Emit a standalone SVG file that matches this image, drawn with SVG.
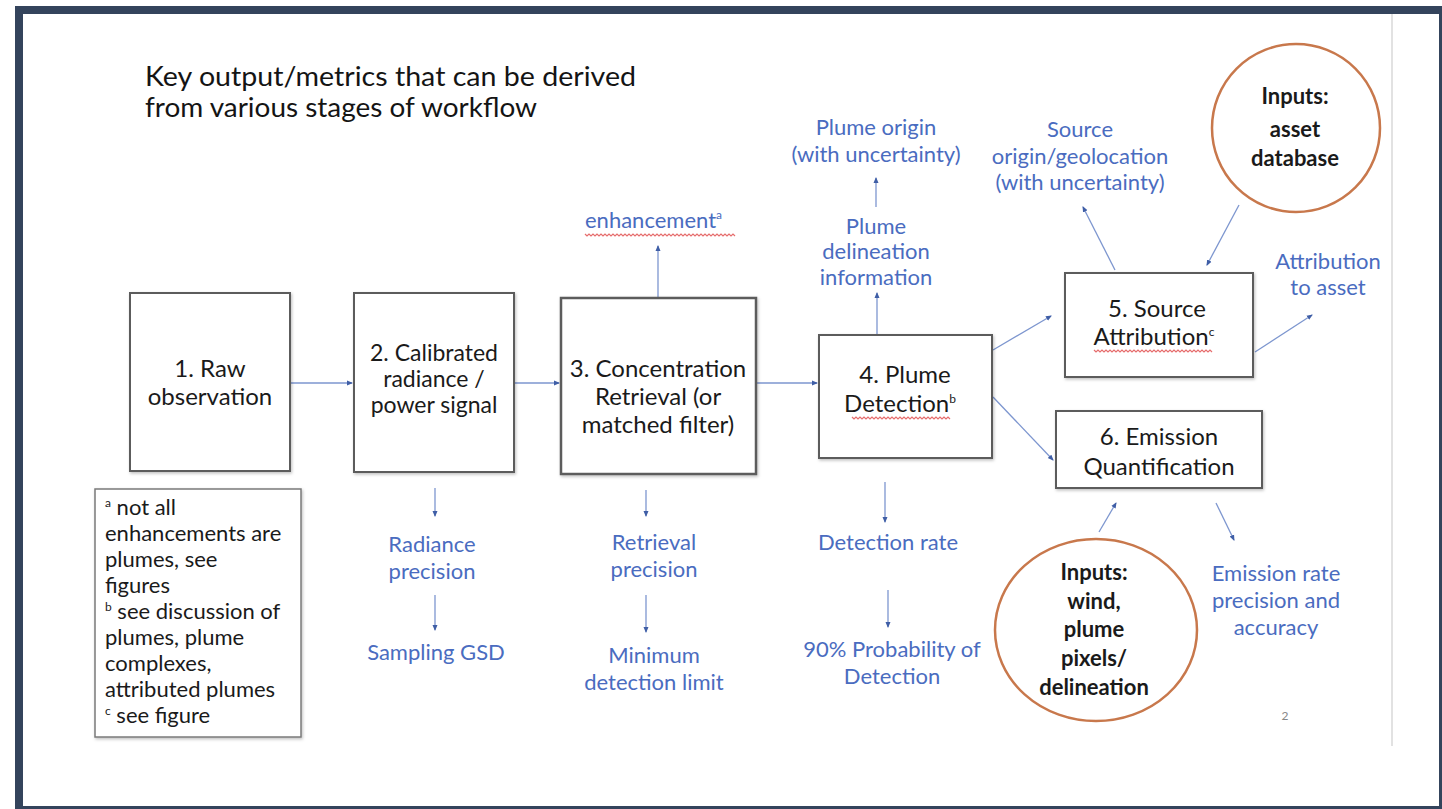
<svg xmlns="http://www.w3.org/2000/svg" width="1442" height="809" viewBox="0 0 1442 809">
  <style>
    .box{fill:#fff;stroke:#5b5b5b;stroke-width:2}
    .bt{font-family:Lato,"Liberation Sans",sans-serif;font-size:24px;fill:#1a1a1a;text-anchor:middle}
    .lb{font-family:Lato,"Liberation Sans",sans-serif;font-size:22px;fill:#4a6cc0;text-anchor:middle}
    .fn{font-family:Lato,"Liberation Sans",sans-serif;font-size:22px;fill:#1a1a1a}
    .ct{font-family:Lato,"Liberation Sans",sans-serif;font-size:22px;font-weight:bold;fill:#1a1a1a;text-anchor:middle}
    .title{font-family:Lato,"Liberation Sans",sans-serif;font-size:27px;fill:#141414}
    .sup{font-size:12px}
    .circ{fill:#fff;stroke:#c8784c;stroke-width:2.5}
    .con{stroke:#7d96cf;stroke-width:1.3;fill:none;marker-end:url(#ah)}
    .wavy{stroke:#e04848;stroke-width:1.2;fill:none;opacity:.8}
  </style>
  <defs>
    <marker id="ah" markerWidth="6" markerHeight="6" refX="5" refY="3" orient="auto" markerUnits="userSpaceOnUse">
      <path d="M0,0.5 L6,3 L0,5.5 z" fill="#3f5ea6"/>
    </marker>
    <filter id="sh" x="-10%" y="-10%" width="120%" height="120%">
      <feDropShadow dx="1" dy="1.5" stdDeviation="1.5" flood-color="#000" flood-opacity="0.25"/>
    </filter>
  </defs>

  <rect x="0" y="0" width="1442" height="809" fill="#fff"/>
  <rect x="19" y="10" width="1424" height="800" fill="none" stroke="#34445c" stroke-width="8"/>
  <line x1="1392" y1="14" x2="1392" y2="746" stroke="#e2e2e2" stroke-width="2"/>

  <g id="title">
    <text class="title" x="145" y="86" textLength="491" lengthAdjust="spacingAndGlyphs">Key output/metrics that can be derived</text>
    <text class="title" x="145" y="117" textLength="392" lengthAdjust="spacingAndGlyphs">from various stages of workflow</text>
  </g>

  <g id="connectors">
    <line class="con" x1="291" y1="383" x2="352" y2="383"/>
    <line class="con" x1="515" y1="383" x2="559" y2="383"/>
    <line class="con" x1="757" y1="383" x2="817" y2="383"/>
    <line class="con" x1="993" y1="350" x2="1051" y2="316"/>
    <line class="con" x1="993" y1="397" x2="1053" y2="460"/>
    <line class="con" x1="877" y1="335" x2="877" y2="293"/>
    <line class="con" x1="876" y1="207" x2="876" y2="178"/>
    <line class="con" x1="658" y1="297" x2="658" y2="246"/>
    <line class="con" x1="435" y1="488" x2="435" y2="516"/>
    <line class="con" x1="435" y1="595" x2="435" y2="630"/>
    <line class="con" x1="646" y1="490" x2="646" y2="516"/>
    <line class="con" x1="646" y1="595" x2="646" y2="632"/>
    <line class="con" x1="885" y1="482" x2="885" y2="522"/>
    <line class="con" x1="888" y1="590" x2="888" y2="627"/>
    <line class="con" x1="1115" y1="270" x2="1083" y2="207"/>
    <line class="con" x1="1239" y1="205" x2="1207" y2="265"/>
    <line class="con" x1="1255" y1="352" x2="1312" y2="315"/>
    <line class="con" x1="1099" y1="532" x2="1116" y2="503"/>
    <line class="con" x1="1216" y1="503" x2="1234" y2="540"/>
  </g>

  <g id="n1">
    <rect class="box" x="130" y="293" width="160" height="178" filter="url(#sh)"/>
    <text class="bt" x="210" y="377">1. Raw</text>
    <text class="bt" x="210" y="405">observation</text>
  </g>
  <g id="n2">
    <rect class="box" x="354" y="293" width="160" height="179" filter="url(#sh)"/>
    <text class="bt" x="434" y="361" style="font-size:23px">2. Calibrated</text>
    <text class="bt" x="434" y="387" style="font-size:23px">radiance /</text>
    <text class="bt" x="434" y="413" style="font-size:23px">power signal</text>
  </g>
  <g id="n3">
    <rect class="box" x="561" y="298" width="195" height="176" style="stroke-width:2.5" filter="url(#sh)"/>
    <text class="bt" x="658" y="377">3. Concentration</text>
    <text class="bt" x="658" y="405">Retrieval (or</text>
    <text class="bt" x="658" y="433">matched filter)</text>
  </g>
  <g id="n4">
    <rect class="box" x="819" y="335" width="173" height="123" filter="url(#sh)"/>
    <text class="bt" x="905" y="383">4. Plume</text>
    <text class="bt" x="900" y="412">Detection<tspan class="sup" dy="-9">b</tspan></text>
    <path class="wavy" d="M852,417 l2,2 l2,-2 l2,2 l2,-2 l2,2 l2,-2 l2,2 l2,-2 l2,2 l2,-2 l2,2 l2,-2 l2,2 l2,-2 l2,2 l2,-2 l2,2 l2,-2 l2,2 l2,-2 l2,2 l2,-2 l2,2 l2,-2 l2,2 l2,-2 l2,2 l2,-2 l2,2 l2,-2 l2,2 l2,-2 l2,2 l2,-2 l2,2 l2,-2 l2,2 l2,-2 l2,2 l2,-2 l2,2 l2,-2 l2,2 l2,-2 l2,2 l2,-2 l2,2 l2,-2 l2,2"/>
  </g>
  <g id="n5">
    <rect class="box" x="1065" y="273" width="188" height="104" filter="url(#sh)"/>
    <text class="bt" x="1157" y="317">5. Source</text>
    <text class="bt" x="1154" y="345">Attribution<tspan class="sup" dy="-9">c</tspan></text>
    <path class="wavy" d="M1094,350 l2,2 l2,-2 l2,2 l2,-2 l2,2 l2,-2 l2,2 l2,-2 l2,2 l2,-2 l2,2 l2,-2 l2,2 l2,-2 l2,2 l2,-2 l2,2 l2,-2 l2,2 l2,-2 l2,2 l2,-2 l2,2 l2,-2 l2,2 l2,-2 l2,2 l2,-2 l2,2 l2,-2 l2,2 l2,-2 l2,2 l2,-2 l2,2 l2,-2 l2,2 l2,-2 l2,2 l2,-2 l2,2 l2,-2 l2,2 l2,-2 l2,2 l2,-2 l2,2 l2,-2 l2,2 l2,-2 l2,2 l2,-2 l2,2 l2,-2 l2,2 l2,-2 l2,2 l2,-2 l2,2"/>
  </g>
  <g id="n6">
    <rect class="box" x="1056" y="411" width="206" height="77" filter="url(#sh)"/>
    <text class="bt" x="1159" y="445">6. Emission</text>
    <text class="bt" x="1159" y="475">Quantification</text>
  </g>

  <g id="in1">
    <circle class="circ" cx="1296" cy="128" r="84"/>
    <text class="ct" x="1295" y="104">Inputs:</text>
    <text class="ct" x="1295" y="137">asset</text>
    <text class="ct" x="1295" y="166">database</text>
  </g>
  <g id="in2">
    <ellipse class="circ" cx="1096" cy="630" rx="101" ry="91"/>
    <text class="ct" x="1094" y="580">Inputs:</text>
    <text class="ct" x="1094" y="609">wind,</text>
    <text class="ct" x="1094" y="637">plume</text>
    <text class="ct" x="1094" y="666">pixels/</text>
    <text class="ct" x="1094" y="695">delineation</text>
  </g>

  <g id="lbl-enh">
    <text class="lb" x="585" y="228" style="text-anchor:start">enhancement<tspan class="sup" dy="-9">a</tspan></text>
    <path class="wavy" d="M585,234 l2,2 l2,-2 l2,2 l2,-2 l2,2 l2,-2 l2,2 l2,-2 l2,2 l2,-2 l2,2 l2,-2 l2,2 l2,-2 l2,2 l2,-2 l2,2 l2,-2 l2,2 l2,-2 l2,2 l2,-2 l2,2 l2,-2 l2,2 l2,-2 l2,2 l2,-2 l2,2 l2,-2 l2,2 l2,-2 l2,2 l2,-2 l2,2 l2,-2 l2,2 l2,-2 l2,2 l2,-2 l2,2 l2,-2 l2,2 l2,-2 l2,2 l2,-2 l2,2 l2,-2 l2,2 l2,-2 l2,2 l2,-2 l2,2 l2,-2 l2,2 l2,-2 l2,2 l2,-2 l2,2 l2,-2 l2,2 l2,-2 l2,2 l2,-2 l2,2 l2,-2 l2,2 l2,-2 l2,2 l2,-2 l2,2 l2,-2 l2,2 l2,-2 l2,2"/>
  </g>
  <g id="lbl-origin">
    <text class="lb" x="876" y="135">Plume origin</text>
    <text class="lb" x="876" y="162">(with uncertainty)</text>
  </g>
  <g id="lbl-delin">
    <text class="lb" x="876" y="234">Plume</text>
    <text class="lb" x="876" y="259">delineation</text>
    <text class="lb" x="876" y="285">information</text>
  </g>
  <g id="lbl-source">
    <text class="lb" x="1080" y="137">Source</text>
    <text class="lb" x="1080" y="164">origin/geolocation</text>
    <text class="lb" x="1080" y="190">(with uncertainty)</text>
  </g>
  <g id="lbl-attr">
    <text class="lb" x="1328" y="269">Attribution</text>
    <text class="lb" x="1328" y="295">to asset</text>
  </g>
  <g id="lbl-rad">
    <text class="lb" x="432" y="552">Radiance</text>
    <text class="lb" x="432" y="579">precision</text>
  </g>
  <g id="lbl-gsd">
    <text class="lb" x="436" y="660">Sampling GSD</text>
  </g>
  <g id="lbl-ret">
    <text class="lb" x="654" y="550">Retrieval</text>
    <text class="lb" x="654" y="577">precision</text>
  </g>
  <g id="lbl-mdl">
    <text class="lb" x="654" y="663">Minimum</text>
    <text class="lb" x="654" y="690">detection limit</text>
  </g>
  <g id="lbl-dr">
    <text class="lb" x="888" y="550">Detection rate</text>
  </g>
  <g id="lbl-pod">
    <text class="lb" x="892" y="657">90% Probability of</text>
    <text class="lb" x="892" y="684">Detection</text>
  </g>
  <g id="lbl-err">
    <text class="lb" x="1276" y="581">Emission rate</text>
    <text class="lb" x="1276" y="608">precision and</text>
    <text class="lb" x="1276" y="635">accuracy</text>
  </g>

  <g id="footnote">
    <rect x="95" y="489" width="206" height="248" fill="#fff" stroke="#7a7a7a" stroke-width="1.5" filter="url(#sh)"/>
    <text class="fn" x="105" y="515"><tspan class="sup" dy="-8">a</tspan><tspan dy="8"> not all</tspan></text>
    <text class="fn" x="105" y="541">enhancements are</text>
    <text class="fn" x="105" y="567">plumes, see</text>
    <text class="fn" x="105" y="593">figures</text>
    <text class="fn" x="105" y="619"><tspan class="sup" dy="-8">b</tspan><tspan dy="8"> see discussion of</tspan></text>
    <text class="fn" x="105" y="645">plumes, plume</text>
    <text class="fn" x="105" y="671">complexes,</text>
    <text class="fn" x="105" y="697">attributed plumes</text>
    <text class="fn" x="105" y="723"><tspan class="sup" dy="-8">c</tspan><tspan dy="8"> see figure</tspan></text>
  </g>

  <text x="1285" y="720" font-family="Lato,'Liberation Sans',sans-serif" font-size="12" fill="#888" text-anchor="middle">2</text>
</svg>
